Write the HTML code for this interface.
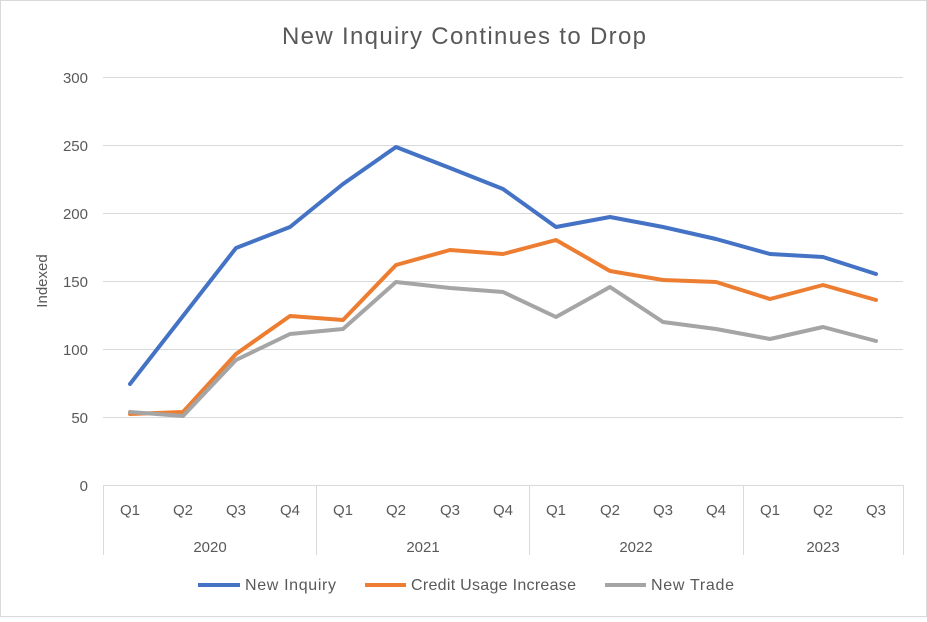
<!DOCTYPE html>
<html><head><style>
body{margin:0;background:#fff}
text{font-family:"Liberation Sans",sans-serif;fill:#595959}
</style></head><body>
<svg width="927" height="617" xmlns="http://www.w3.org/2000/svg">
<rect x="0.5" y="0.5" width="926" height="616" fill="#fff" stroke="#d9d9d9"/>
<text x="282" y="44" font-size="24" textLength="364" lengthAdjust="spacing">New Inquiry Continues to Drop</text>
<g stroke="#d9d9d9" stroke-width="1">
<line x1="103" x2="903" y1="77.5" y2="77.5"/>
<line x1="103" x2="903" y1="145.5" y2="145.5"/>
<line x1="103" x2="903" y1="213.5" y2="213.5"/>
<line x1="103" x2="903" y1="281.5" y2="281.5"/>
<line x1="103" x2="903" y1="349.5" y2="349.5"/>
<line x1="103" x2="903" y1="417.5" y2="417.5"/>
<line x1="103" x2="903" y1="485.5" y2="485.5"/>
<line x1="103.5" x2="103.5" y1="485" y2="555"/>
<line x1="316.5" x2="316.5" y1="485" y2="555"/>
<line x1="529.5" x2="529.5" y1="485" y2="555"/>
<line x1="743.5" x2="743.5" y1="485" y2="555"/>
<line x1="903.5" x2="903.5" y1="485" y2="555"/>
</g>
<g font-size="15" text-anchor="end">
<text x="88" y="83">300</text><text x="88" y="151">250</text><text x="88" y="219">200</text>
<text x="88" y="287">150</text><text x="88" y="355">100</text><text x="88" y="423">50</text><text x="88" y="491">0</text>
</g>
<text transform="translate(47,281) rotate(-90)" font-size="15" text-anchor="middle">Indexed</text>
<g font-size="15" text-anchor="middle">
<text x="130" y="515">Q1</text><text x="183" y="515">Q2</text><text x="236" y="515">Q3</text><text x="290" y="515">Q4</text>
<text x="343" y="515">Q1</text><text x="396" y="515">Q2</text><text x="450" y="515">Q3</text><text x="503" y="515">Q4</text>
<text x="556" y="515">Q1</text><text x="610" y="515">Q2</text><text x="663" y="515">Q3</text><text x="716" y="515">Q4</text>
<text x="770" y="515">Q1</text><text x="823" y="515">Q2</text><text x="876" y="515">Q3</text>
<text x="210" y="552">2020</text><text x="423" y="552">2021</text><text x="636" y="552">2022</text><text x="823" y="552">2023</text>
</g>
<g fill="none" stroke-width="4" stroke-linejoin="round" stroke-linecap="round">
<polyline stroke="#4472c4" points="130,384 183,316 236,248 290,227 343,184 396,147 450,168 503,189 556,227 610,217 663,227 716,239 770,254 823,257 876,274"/>
<polyline stroke="#ed7d31" points="130,414 183,412 236,354 290,316 343,320 396,265 450,250 503,254 556,240 610,271 663,280 716,282 770,299 823,285 876,300"/>
<polyline stroke="#a5a5a5" points="130,412 183,416 236,360 290,334 343,329 396,282 450,288 503,292 556,317 610,287 663,322 716,329 770,339 823,327 876,341"/>
</g>
<g stroke-width="4">
<line x1="198" x2="240" y1="585" y2="585" stroke="#4472c4"/>
<line x1="365" x2="406" y1="585" y2="585" stroke="#ed7d31"/>
<line x1="605" x2="646" y1="585" y2="585" stroke="#a5a5a5"/>
</g>
<g font-size="16">
<text x="245" y="590" textLength="91" lengthAdjust="spacing">New Inquiry</text>
<text x="411" y="590" textLength="165" lengthAdjust="spacing">Credit Usage Increase</text>
<text x="651" y="590" textLength="83" lengthAdjust="spacing">New Trade</text>
</g>
</svg>
</body></html>
